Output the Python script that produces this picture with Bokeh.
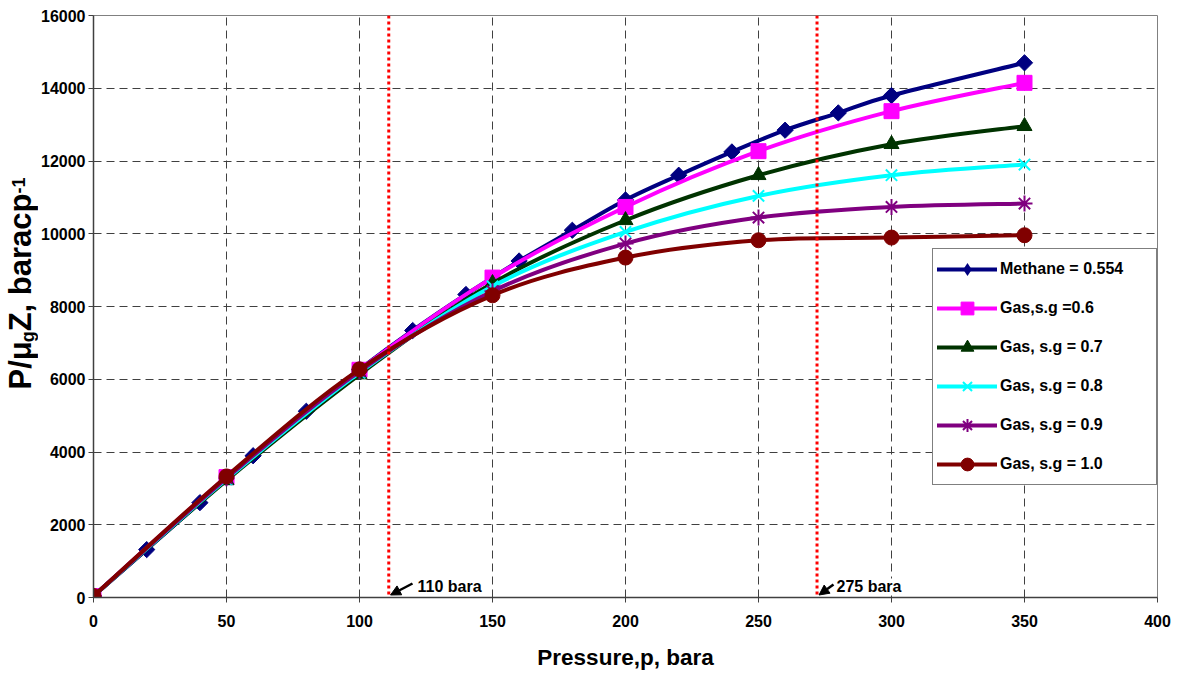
import math
from bokeh.plotting import figure
from bokeh.layouts import row
from bokeh.core.properties import value
from bokeh.models import (Span, Label, Arrow, NormalHead, Legend, LegendItem,
                          ColumnDataSource, FixedTicker, Range1d)
from bokeh.embed import file_html
from bokeh.resources import INLINE

# ---------------- data ----------------
methane_p = [0, 20, 40, 60, 80, 100, 120, 140, 160, 180, 200, 220, 240, 260, 280, 300, 350]
methane_v = [40, 1317, 2607, 3897, 5120, 6270, 7340, 8330, 9252, 10096, 10930, 11609, 12250,
             12847, 13323, 13800, 14699]

gas_p = [0, 50, 100, 150, 200, 250, 300, 350]
gas06_v = [40, 3310, 6260, 8795, 10737, 12270, 13370, 14149]
gas07_v = [40, 3220, 6130, 8640, 10371, 11609, 12462, 12957]
gas08_v = [40, 3250, 6180, 8556, 10050, 11040, 11609, 11903]
gas09_v = [40, 3280, 6220, 8420, 9730, 10445, 10737, 10830]
gas10_v = [40, 3329, 6272, 8308, 9345, 9821, 9895, 9959]

series_names = ["Methane = 0.554", "Gas,s.g =0.6", "Gas, s.g = 0.7",
                "Gas, s.g = 0.8", "Gas, s.g = 0.9", "Gas, s.g = 1.0"]

x_ticks = [0, 50, 100, 150, 200, 250, 300, 350, 400]
y_ticks = [0, 2000, 4000, 6000, 8000, 10000, 12000, 14000, 16000]

marker_lines_p = [111, 272]           # red dotted verticals (as drawn)
marker_texts = ["110 bara", "275 bara"]

# y-axis title pieces: (text, font px, baseline shift px)
ytitle_pieces = [("P/μ", 31, 0), ("g", 18, 2.5), ("Z, baracp", 31, 0), ("-1", 18, -7)]

# ---------------- layout ----------------
W, H = 1178, 675
LW = 38                         # strip on the left holding the y-axis title
BL, BR, BT, BB = 93, 21, 15, 78
FW, FH = W - BL - BR, H - BT - BB
px_x = FW / 400.0
px_y = FH / 16000.0
MID = 0.35                      # baseline offset of a "middle"-anchored text, in em


def xd(px):  # canvas px -> data x
    return (px - BL) / px_x


def yd(py):  # canvas px -> data y
    return (BT + FH - py) / px_y


FONT = "Liberation Sans"

p = figure(width=W - LW, height=H, x_range=Range1d(0, 400), y_range=Range1d(0, 16000),
           output_backend="svg", toolbar_location=None,
           min_border_left=BL - LW, min_border_right=BR, min_border_top=BT,
           min_border_bottom=BB,
           background_fill_color="white", border_fill_color="white")
p.outline_line_color = "#808080"
p.outline_line_width = 1

for ax, ticks in ((p.xaxis, x_ticks), (p.yaxis, y_ticks)):
    ax.ticker = FixedTicker(ticks=ticks)
    ax.major_label_text_font = FONT
    ax.major_label_text_font_style = "bold"
    ax.major_label_text_font_size = "16px"
    ax.major_label_text_color = "black"
    ax.axis_line_color = "#404040"
    ax.axis_line_width = 1.5
    ax.major_tick_line_color = "#404040"
    ax.major_tick_out = 5
    ax.major_tick_in = 0
    ax.minor_tick_line_color = None

p.xaxis.major_label_standoff = 12
p.yaxis.major_label_standoff = 3
p.xaxis.axis_label = "Pressure,p, bara"
p.xaxis.axis_label_text_font = FONT
p.xaxis.axis_label_text_font_style = "bold"
p.xaxis.axis_label_text_font_size = "22.5px"
p.xaxis.axis_label_text_color = "black"
p.xaxis.axis_label_standoff = 15

for g in (p.xgrid, p.ygrid):
    g.grid_line_color = "#404040"
    g.grid_line_dash = "8 5"
    g.grid_line_width = 1


def bez_source(xs, ys):
    n = len(xs)
    d = dict(x0=[], y0=[], x1=[], y1=[], cx0=[], cy0=[], cx1=[], cy1=[])
    for i in range(n - 1):
        ip = i - 1 if i > 0 else i
        inn = i + 2 if i + 2 < n else i + 1
        d["x0"].append(xs[i]); d["y0"].append(ys[i])
        d["x1"].append(xs[i + 1]); d["y1"].append(ys[i + 1])
        d["cx0"].append(xs[i] + (xs[i + 1] - xs[ip]) / 6.0)
        d["cy0"].append(ys[i] + (ys[i + 1] - ys[ip]) / 6.0)
        d["cx1"].append(xs[i + 1] - (xs[inn] - xs[i]) / 6.0)
        d["cy1"].append(ys[i + 1] - (ys[inn] - ys[i]) / 6.0)
    return ColumnDataSource(d)


# (x, y, colour, plot marker, size, angle, marker line width, legend marker)
series = [
    (methane_p, methane_v, "#000080", "square", 11.5, math.pi / 4, 1, "diamond"),
    (gas_p, gas06_v, "#FF00FF", "square", 15, 0, 1, None),
    (gas_p, gas07_v, "#003300", "triangle", 15, 0, 1, None),
    (gas_p, gas08_v, "#00FFFF", "x", 16, 0, 2, None),
    (gas_p, gas09_v, "#800080", "asterisk", 16, 0, 2, None),
    (gas_p, gas10_v, "#800000", "circle", 15, 0, 1, None),
]

items = []
for (xs, ys, col, mk, sz, ang, mlw, lmk), name in zip(series, series_names):
    br = p.bezier(x0="x0", y0="y0", x1="x1", y1="y1", cx0="cx0", cy0="cy0",
                  cx1="cx1", cy1="cy1", source=bez_source(xs, ys),
                  line_color=col, line_width=4, line_cap="round")
    sr = p.scatter(x=xs, y=ys, marker=mk, size=sz, angle=ang,
                   fill_color=col, line_color=col, line_width=mlw)
    if lmk is None:
        items.append(LegendItem(label=name, renderers=[br, sr]))
    else:
        # legend-only marker (zero size on the plot)
        lr = p.scatter(x=xs, y=ys, marker=lmk, size=0, fill_color=col, line_color=None)
        items.append(LegendItem(label=name, renderers=[br, lr]))

legend = Legend(items=items, location=(932 - BL, BT + FH - 485), padding=4, spacing=7,
                glyph_height=32, glyph_width=60, label_height=32, label_standoff=3,
                label_width=152, border_line_color="black", border_line_width=1,
                background_fill_color="white", background_fill_alpha=1.0,
                label_text_font=FONT, label_text_font_style="bold",
                label_text_font_size="16px", label_text_color="black", margin=0)
p.add_layout(legend)

# red dotted verticals
for v in marker_lines_p:
    p.add_layout(Span(location=v, dimension="height", line_color="#FF0000",
                      line_width=3, line_dash="3 3"))

# annotations with arrows (text anchor = baseline - MID em, middle-anchored)
ann = [((417, 592), (412, 583), (390, 594.5)),
       ((836, 592), (833, 584), (818.5, 594.5))]
for txt, (tpos, a0, a1) in zip(marker_texts, ann):
    p.add_layout(Label(x=xd(tpos[0]), y=yd(tpos[1] - MID * 16), text=txt, text_font=FONT,
                       text_font_style="bold", text_font_size="16px",
                       text_color="black", text_baseline="middle", text_align="left",
                       background_fill_color="white", background_fill_alpha=1.0))
    p.add_layout(Arrow(end=NormalHead(size=10, fill_color="black", line_color="black"),
                       x_start=xd(a0[0]), y_start=yd(a0[1]),
                       x_end=xd(a1[0]), y_end=yd(a1[1]),
                       line_color="black", line_width=2.5))

# ---------------- y-axis title (with sub / superscript) ----------------
# In a row, the frames are aligned with the main plot's frame (BT..H-BB), so
# the y range is set to map canvas pixels one to one (data y = H - canvas y).
q = figure(width=LW, height=H, x_range=Range1d(0, LW), y_range=Range1d(BB, H - BT),
           output_backend="svg", toolbar_location=None, title=None,
           x_axis_location=None, y_axis_location=None,
           min_border_left=0, min_border_right=0, min_border_top=BT, min_border_bottom=BB,
           background_fill_color="white", border_fill_color="white")
q.grid.visible = False
q.outline_line_color = None

CW = {'P': 667, '/': 278, 'μ': 576, 'g': 611, 'Z': 611, ',': 278, ' ': 278, 'b': 611,
      'a': 556, 'r': 389, 'c': 556, 'p': 611, '-': 333, '1': 556}
cur = 389.0          # canvas px where the title starts (bottom)
base_x = 31.0        # canvas px of the main baseline
for txt, fs, shift in ytitle_pieces:
    q.text(x=[base_x + shift - MID * fs], y=[H - cur], text=[txt], angle=math.pi / 2,
           text_font=value(FONT), text_font_style="bold", text_font_size=f"{fs}px",
           text_color="black", text_baseline="middle", text_align="left")
    cur -= sum(CW.get(ch, 556) for ch in txt) * fs / 1000.0

layout = row(q, p, spacing=0)
open("out.html", "w").write(file_html(layout, INLINE))
